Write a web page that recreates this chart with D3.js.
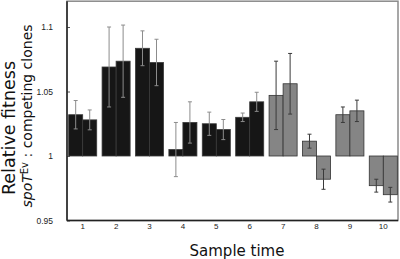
<!DOCTYPE html>
<html>
<head>
<meta charset="utf-8">
<script src="https://cdn.jsdelivr.net/npm/d3@7"></script>
<style>
  body { margin: 0; background: #fff; }
  svg { display: block; }
</style>
</head>
<body>
<div id="chart"></div>
<script>
// sample times and the two competing-clone series
const samples = ["1", "2", "3", "4", "5", "6", "7", "8", "9", "10"];
const phase = ["a", "a", "a", "a", "a", "a", "b", "b", "b", "b"];
const cloneA = [1.032, 1.069, 1.0835, 1.005, 1.025, 1.030, 1.047, 1.0115, 1.032, 0.977];
const errA = [0.011, 0.031, 0.0135, 0.021, 0.009, 0.0033, 0.0265, 0.0054, 0.006, 0.005];
const cloneB = [1.028, 1.0735, 1.0725, 1.026, 1.0205, 1.042, 1.056, 0.982, 1.035, 0.970];
const errB = [0.0077, 0.028, 0.018, 0.016, 0.0078, 0.0074, 0.0235, 0.0078, 0.0083, 0.0057];
const yTicks = [0.95, 1, 1.05, 1.1];

const width = 400, height = 259;
const plot = {left: 67, right: 398, bottom: 220.5};

const svg = d3.select("#chart")
    .append("svg")
    .attr("width", width)
    .attr("height", height);

const x = d3.scaleBand()
    .domain(samples)
    .range([66, 400])
    .paddingInner(0.16)
    .paddingOuter(0.08);

const xSub = d3.scaleBand()
    .domain([0, 1])
    .range([0, x.bandwidth()]);

const y = d3.scaleLinear()
    .domain([0.95, 1.1])
    .range([plot.bottom, 27]);
const plotTop = y(1.12);

const fill = d3.scaleOrdinal().domain(["a", "b"]).range(["#161616", "#858585"]);
const edge = d3.scaleOrdinal().domain(["a", "b"]).range(["#3a3a3a", "#333333"]);
const errColor = d3.scaleOrdinal().domain(["a", "b"]).range(["#8c8c8c", "#3a3a3a"]);

// flatten into one row per bar
const rows = [];
samples.forEach((s, i) => {
    rows.push({s: s, k: 0, v: cloneA[i], e: errA[i], p: phase[i]});
    rows.push({s: s, k: 1, v: cloneB[i], e: errB[i], p: phase[i]});
});

// frame (top/right grey)
svg.append("rect")
    .attr("x", plot.left)
    .attr("y", plotTop)
    .attr("width", plot.right - plot.left)
    .attr("height", plot.bottom - plotTop)
    .attr("fill", "none")
    .attr("stroke", "#8a8a8a")
    .attr("stroke-width", 1.5);

// bars from baseline 1
svg.selectAll("rect.bar")
    .data(rows)
    .enter()
    .append("rect")
    .attr("class", "bar")
    .attr("x", d => x(d.s) + xSub(d.k))
    .attr("y", d => Math.min(y(1), y(d.v)))
    .attr("width", xSub.bandwidth())
    .attr("height", d => Math.abs(y(d.v) - y(1)))
    .attr("fill", d => fill(d.p))
    .attr("stroke", d => edge(d.p))
    .attr("stroke-width", 0.8);

// error bars
const eb = svg.selectAll("g.err")
    .data(rows)
    .enter()
    .append("g")
    .attr("class", "err")
    .attr("stroke", d => errColor(d.p))
    .attr("stroke-width", 1);

eb.append("line")
    .attr("x1", d => x(d.s) + xSub(d.k) + xSub.bandwidth() / 2)
    .attr("x2", d => x(d.s) + xSub(d.k) + xSub.bandwidth() / 2)
    .attr("y1", d => y(d.v - d.e))
    .attr("y2", d => y(d.v + d.e));

[1, -1].forEach(sign => {
    eb.append("line")
        .attr("x1", d => x(d.s) + xSub(d.k) + xSub.bandwidth() / 2 - 2)
        .attr("x2", d => x(d.s) + xSub(d.k) + xSub.bandwidth() / 2 + 2)
        .attr("y1", d => y(d.v + sign * d.e))
        .attr("y2", d => y(d.v + sign * d.e));
});

// axes
const yAxis = svg.append("g")
    .attr("transform", `translate(${plot.left},0)`)
    .call(d3.axisLeft(y).tickValues(yTicks).tickFormat(d => String(d))
        .tickSizeInner(-3).tickSizeOuter(0).tickPadding(14));
yAxis.select(".domain").remove();
yAxis.selectAll("line").attr("stroke", "#555");
yAxis.selectAll("text")
    .style("font-family", "Liberation Sans, Arial, sans-serif")
    .style("font-size", "8.5px")
    .attr("fill", "#222");

const xAxis = svg.append("g")
    .attr("transform", `translate(0,${plot.bottom})`)
    .call(d3.axisBottom(x).tickSize(0).tickPadding(3));
xAxis.select(".domain").remove();
xAxis.selectAll("text")
    .style("font-family", "Liberation Sans, Arial, sans-serif")
    .style("font-size", "8px")
    .attr("fill", "#222");

// dark left and bottom frame lines
svg.append("line")
    .attr("x1", plot.left).attr("x2", plot.left)
    .attr("y1", plotTop).attr("y2", plot.bottom)
    .attr("stroke", "#222").attr("stroke-width", 1.5);
svg.append("line")
    .attr("x1", plot.left).attr("x2", plot.right)
    .attr("y1", plot.bottom).attr("y2", plot.bottom)
    .attr("stroke", "#222").attr("stroke-width", 1.5);

// labels
svg.append("text")
    .attr("x", 237)
    .attr("y", 256)
    .attr("text-anchor", "middle")
    .style("font-family", "DejaVu Sans, sans-serif")
    .style("font-size", "15px")
    .attr("fill", "#111")
    .text("Sample time");

svg.append("text")
    .attr("transform", "translate(15,128) rotate(-90)")
    .attr("text-anchor", "middle")
    .style("font-family", "DejaVu Sans, sans-serif")
    .style("font-size", "17.5px")
    .attr("fill", "#111")
    .text("Relative fitness");

const lab2 = svg.append("text")
    .attr("transform", "translate(32,116) rotate(-90)")
    .attr("text-anchor", "middle")
    .style("font-family", "DejaVu Sans, sans-serif")
    .style("font-size", "14px")
    .attr("fill", "#111");
lab2.append("tspan").style("font-style", "italic").text("spoT");
lab2.append("tspan").attr("dy", -4).style("font-size", "10px").text("Ev");
lab2.append("tspan").attr("dy", 4).text(" : competing clones");
</script>
</body>
</html>
